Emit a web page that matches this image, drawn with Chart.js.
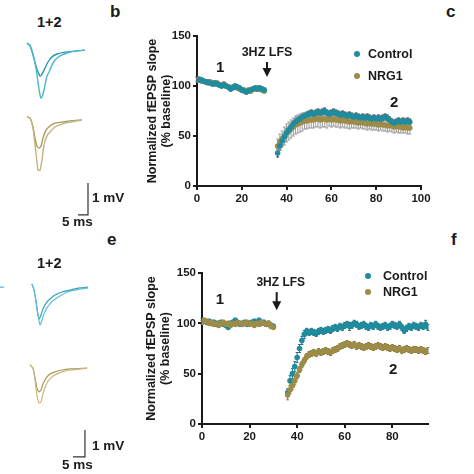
<!DOCTYPE html>
<html>
<head>
<meta charset="utf-8">
<script src="https://cdn.jsdelivr.net/npm/chart.js@4/dist/chart.umd.min.js"></script>
<style>
  body { margin: 0; background: #fff; }
  #wrap { position: relative; width: 474px; height: 474px; overflow: hidden; font-family: 'Liberation Sans', Arial, sans-serif; color: #1a1a1a; }
  canvas { position: absolute; }
  .lbl { position: absolute; line-height: 1; font-weight: bold; white-space: nowrap; }
  .dot { position: absolute; width: 6px; height: 6px; border-radius: 50%; }
</style>
</head>
<body>
<div id="wrap">
  <canvas id="traceTop" style="left:20px;top:30px;width:110px;height:200px"></canvas>
  <canvas id="traceBottom" style="left:0px;top:255px;width:130px;height:215px"></canvas>
  <canvas id="chartTop" style="left:130px;top:20px;width:310px;height:200px"></canvas>
  <canvas id="chartBottom" style="left:130px;top:250px;width:310px;height:210px"></canvas>

  <div class="lbl" style="left:110px;top:3px;font-size:17px">b</div>
  <div class="lbl" style="left:446px;top:3px;font-size:17px">c</div>
  <div class="lbl" style="left:107px;top:231px;font-size:17px">e</div>
  <div class="lbl" style="left:451px;top:231px;font-size:17px">f</div>

  <div class="lbl" style="left:37px;top:15px;font-size:14.5px">1+2</div>
  <div class="lbl" style="left:92px;top:191px;font-size:13.5px">1 mV</div>
  <div class="lbl" style="left:62px;top:215px;font-size:13.5px">5 ms</div>
  <div class="lbl" style="left:37px;top:256px;font-size:14.5px">1+2</div>
  <div class="lbl" style="left:92px;top:439px;font-size:13.5px">1 mV</div>
  <div class="lbl" style="left:62px;top:458px;font-size:13.5px">5 ms</div>

  <!-- legends -->
  <div class="dot" style="left:354px;top:51px;background:#1e8c9e"></div>
  <div class="lbl" style="left:368px;top:48px;font-size:12.5px">Control</div>
  <div class="dot" style="left:354px;top:73px;background:#9c8c48"></div>
  <div class="lbl" style="left:368px;top:70px;font-size:12.5px">NRG1</div>
  <div class="dot" style="left:365px;top:273px;background:#1e8c9e"></div>
  <div class="lbl" style="left:383px;top:270px;font-size:12.5px">Control</div>
  <div class="dot" style="left:365px;top:289px;background:#9c8c48"></div>
  <div class="lbl" style="left:383px;top:286px;font-size:12.5px">NRG1</div>
</div>

<script>
// 时间（分钟）：基线 0-30，LFS 后 36-95
const minutes = [0,1,2,3,4,5,6,7,8,9,10,11,12,13,14,15,16,17,18,19,20,21,22,23,24,25,26,27,28,29,30,
  36,37,38,39,40,41,42,43,44,45,46,47,48,49,50,51,52,53,54,55,56,57,58,59,60,61,62,63,64,65,
  66,67,68,69,70,71,72,73,74,75,76,77,78,79,80,81,82,83,84,85,86,87,88,89,90,91,92,93,94,95];

// 上图 (c)
const topControl = [107,106,106,105,104,104,103,102,103,102,101,100,101,100,99,97,98,100,99,98,96,95,94,95,96,97,98,97,98,97,96,
  33,40,45,49,53,56,59,62,64,66,67,69,70,71,
  72,73,72,73,74,73,74,75,73,72,73,74,73,72,71,72,71,70,71,70,69,70,69,68,69,68,69,68,67,68,67,68,67,68,69,68,66,64,63,64,65,64,65,64,65,64];
const topControlErr = [2,2,2,1,2,2,1,2,2,1,2,2,1,2,2,2,1,2,2,2,2,1,2,2,2,1,2,2,2,2,2,
  4,4,4,4,4,3,3,3,3,3,3,3,3,3,3,3,3,3,3,3,3,3,3,3,3,3,3,3,3,3,
  3,3,3,3,3,3,3,3,3,3,3,3,3,3,3,3,3,3,3,3,3,3,3,3,3,3,3,3,3,3];
const topNrg1 = [106,107,105,105,104,103,104,103,102,103,101,101,102,100,99,98,99,99,98,97,96,96,95,96,95,97,97,98,97,96,95,
  40,44,47,50,53,55,57,59,61,62,63,64,65,65,66,66,66,67,67,66,67,67,66,67,66,67,66,66,65,66,
  65,65,64,65,64,64,63,64,63,63,62,63,62,62,62,61,62,61,61,60,61,60,59,60,59,59,58,59,58,58];
const topNrg1Err = [2,2,2,2,2,2,2,2,2,2,2,2,2,2,2,2,2,2,2,2,2,2,2,2,2,2,2,2,2,2,2,
  7,8,8,9,9,9,9,9,9,9,9,9,8,8,8,8,8,8,8,8,8,8,8,7,7,7,7,7,7,7,
  7,7,7,7,6,6,6,6,6,6,6,6,6,6,6,6,6,6,6,6,6,6,6,6,6,6,5,6,6,6];

// 下图 (f)
const botControl = [103,102,101,102,100,101,99,100,101,99,98,96,100,101,103,100,99,100,101,99,100,101,102,101,103,100,101,99,100,98,97,
  31,43,50,57,66,75,83,89,92,91,92,91,90,92,93,92,93,94,93,95,96,95,97,96,98,99,97,98,100,99,
  97,98,99,97,96,98,97,99,97,96,97,98,96,97,99,98,97,99,96,93,95,97,96,98,97,96,98,97,99,96];
const botControlErr = [2,2,2,2,2,2,2,2,2,2,2,2,2,2,2,2,2,2,2,2,2,2,2,2,2,2,2,2,2,2,2,
  4,5,5,5,5,4,4,4,3,3,3,3,3,3,3,3,3,3,3,3,3,3,3,3,3,3,4,3,3,3,
  3,3,3,3,3,3,3,3,3,3,3,3,3,3,3,3,3,3,3,3,3,3,3,3,3,3,3,3,4,3];
const botNrg1 = [101,103,102,100,101,99,100,98,100,101,99,100,98,100,99,101,100,99,100,101,99,100,98,100,99,101,100,99,100,97,96,
  29,34,38,43,48,54,59,63,67,69,70,71,70,72,71,72,73,72,71,73,74,75,77,78,79,80,79,78,79,77,
  78,77,76,77,78,77,76,77,78,77,76,77,76,75,76,75,74,75,73,74,75,74,73,74,74,73,74,73,72,73];
const botNrg1Err = [2,2,2,2,2,2,2,2,2,2,2,2,2,2,2,2,2,2,2,2,2,2,2,2,2,2,2,2,2,2,2,
  5,4,4,4,3,3,3,3,3,3,3,3,3,3,3,3,3,3,3,3,3,3,3,3,3,3,3,3,3,3,
  3,3,3,3,3,3,3,3,3,3,3,3,3,3,3,3,3,3,3,3,3,3,3,3,3,3,3,3,3,3];

const yTicks = [0, 50, 100, 150];
const xTicksTop = [0, 20, 40, 60, 80, 100];
const xTicksBottom = [0, 20, 40, 60, 80];

// 示例波形 (ms, mV)
const tTopCyanDeepMs = [3.5,5,6.5,8,9,10,10.5,11.5,12.5,13.5,15,16,17.5,20,23.5,27.5,32.5];
const tTopCyanDeepMv = [-0.41,-0.47,-0.75,-1.19,-1.63,-2.03,-2.13,-2.0,-1.72,-1.44,-1.25,-1.09,-0.94,-0.81,-0.72,-0.66,-0.63];
const tTopCyanMs = [3.5,5,6.5,8,9,10,11,12.5,14,16,18.5,22.5,27.5,32.5];
const tTopCyanMv = [-0.41,-0.5,-0.78,-1.13,-1.31,-1.44,-1.38,-1.19,-1.0,-0.84,-0.75,-0.69,-0.66,-0.63];
const tTopOliveDeepMs = [3.5,5,6.5,7.5,8.5,9,10,11,12,13.5,15,17.5,21,25,31];
const tTopOliveDeepMv = [-2.72,-2.75,-3.06,-3.59,-4.13,-4.38,-4.38,-4.06,-3.59,-3.31,-3.19,-3.03,-2.94,-2.88,-2.81];
const tTopOliveMs = [3.5,5,6.5,7.5,8.5,9.5,10.5,11.5,13,15,17.5,21,25,31];
const tTopOliveMv = [-2.72,-2.75,-3.03,-3.38,-3.63,-3.69,-3.63,-3.38,-3.13,-3.0,-2.91,-2.88,-2.84,-2.81];
const barTopMs = [34,34,29];
const barTopMv = [-4.78,-5.78,-5.78];

const tBotCyanDeepMs = [13.3,14.2,15,15.8,16.7,17.5,18.3,19.6,20.8,22.9,25,27.9,31.3,36.7];
const tBotCyanDeepMv = [-1.07,-1.30,-1.74,-2.22,-2.59,-2.41,-2.19,-1.96,-1.81,-1.63,-1.52,-1.37,-1.30,-1.22];
const tBotCyanMs = [13.3,14.2,15,15.8,16.3,17.1,17.9,19.2,20.8,22.9,25.8,29.2,33.3,36.7];
const tBotCyanMv = [-1.07,-1.30,-1.70,-2.19,-2.37,-2.22,-2.0,-1.78,-1.63,-1.48,-1.37,-1.30,-1.22,-1.19];
const tBotOliveDeepMs = [12.5,13.75,14.6,15.4,16.3,17.1,17.9,19.2,20.8,22.9,25.8,29.2,36.3];
const tBotOliveDeepMv = [-4.07,-4.19,-4.63,-5.19,-5.48,-5.44,-5.15,-4.81,-4.59,-4.44,-4.33,-4.26,-4.19];
const tBotOliveMs = [12.5,13.75,14.6,15.4,16.3,17.1,17.9,19.2,20.8,22.9,25.8,29.2,36.3];
const tBotOliveMv = [-4.07,-4.19,-4.56,-4.93,-5.07,-5.0,-4.78,-4.56,-4.41,-4.33,-4.26,-4.22,-4.19];
const tBotEdgeMs = [0,1.7];
const tBotEdgeMv = [-1.19,-1.19];
const barBotMs = [35.4,35.4,30.4];
const barBotMv = [-6.48,-7.48,-7.48];

const FONT = "'Liberation Sans', Arial, sans-serif";
Chart.defaults.font.family = FONT;
Chart.defaults.color = '#1a1a1a';

const pts = (xs, ys) => xs.map((x, i) => ({ x: x, y: ys[i] }));

// 误差线
const errorBars = {
  id: 'errorBars',
  beforeDatasetsDraw(chart) {
    const { ctx, scales: { x, y } } = chart;
    chart.data.datasets.forEach(ds => {
      if (!ds.err) return;
      ctx.save();
      ctx.strokeStyle = ds.errColor;
      ctx.lineWidth = 1;
      ds.data.forEach((p, j) => {
        const e = ds.err[j];
        const px = x.getPixelForValue(p.x);
        const y1 = y.getPixelForValue(p.y + e);
        const y2 = y.getPixelForValue(p.y - e);
        ctx.beginPath();
        ctx.moveTo(px, y1); ctx.lineTo(px, y2);
        ctx.moveTo(px - 1.5, y1); ctx.lineTo(px + 1.5, y1);
        ctx.moveTo(px - 1.5, y2); ctx.lineTo(px + 1.5, y2);
        ctx.stroke();
      });
      ctx.restore();
    });
  }
};

// 注释：文字和箭头
const marks = {
  id: 'marks',
  afterDatasetsDraw(chart, args, opts) {
    const { ctx, scales: { x, y } } = chart;
    ctx.save();
    ctx.fillStyle = '#1a1a1a';
    ctx.textAlign = 'center';
    ctx.textBaseline = 'middle';
    (opts.texts || []).forEach(t => {
      ctx.font = t.font;
      ctx.fillText(t.text, x.getPixelForValue(t.x), y.getPixelForValue(t.y));
    });
    const a = opts.arrow;
    if (a) {
      const ax = x.getPixelForValue(a.x);
      const y0 = y.getPixelForValue(a.from);
      const y1 = y.getPixelForValue(a.to);
      ctx.strokeStyle = '#1a1a1a';
      ctx.lineWidth = 2;
      ctx.beginPath(); ctx.moveTo(ax, y0); ctx.lineTo(ax, y1 - 6); ctx.stroke();
      ctx.beginPath();
      ctx.moveTo(ax - 4.5, y1 - 9); ctx.lineTo(ax + 4.5, y1 - 9); ctx.lineTo(ax, y1);
      ctx.closePath(); ctx.fill();
    }
    ctx.restore();
  }
};

function axisY(width, titlePad) {
  return {
    type: 'linear', min: 0, max: 150,
    afterBuildTicks: s => { s.ticks = yTicks.map(v => ({ value: v })); },
    afterFit: s => { s.width = width; },
    border: { display: true, color: '#1a1a1a', width: 2 },
    grid: { drawOnChartArea: false, drawTicks: true, tickLength: 4, color: '#1a1a1a', lineWidth: 2 },
    ticks: { padding: 2, font: { size: 11.5, weight: 'bold' } },
    title: {
      display: true,
      text: ['Normalized fEPSP slope', '(% baseline)'],
      font: { size: 12.5, weight: 'bold', lineHeight: 1.15 },
      padding: { top: titlePad, bottom: 0 }
    }
  };
}

function axisX(max, ticks, height) {
  return {
    type: 'linear', min: 0, max: max,
    afterBuildTicks: s => { s.ticks = ticks.map(v => ({ value: v })); },
    afterFit: s => { s.height = height; },
    border: { display: true, color: '#1a1a1a', width: 2 },
    grid: { drawOnChartArea: false, drawTicks: true, tickLength: 4, color: '#1a1a1a', lineWidth: 2 },
    ticks: { padding: 2, maxRotation: 0, font: { size: 11.5, weight: 'bold' } }
  };
}

function ltpChart(id, ctrl, ctrlErr, nrg, nrgErr, opt) {
  new Chart(document.getElementById(id), {
    type: 'scatter',
    data: {
      datasets: [
        { label: 'Control', data: pts(minutes, ctrl), err: ctrlErr, errColor: opt.ctrlErrColor,
          backgroundColor: '#1e8c9e', borderColor: '#1e8c9e', pointRadius: 2.8, borderWidth: 0, order: opt.ctrlOrder },
        { label: 'NRG1', data: pts(minutes, nrg), err: nrgErr, errColor: opt.nrgErrColor,
          backgroundColor: '#9c8c48', borderColor: '#9c8c48', pointRadius: 2.8, borderWidth: 0, order: opt.nrgOrder }
      ]
    },
    options: {
      responsive: false,
      animation: false,
      layout: { padding: opt.padding },
      scales: { x: axisX(opt.xMax, opt.xTicks, opt.xHeight), y: axisY(opt.yWidth, opt.titlePad) },
      plugins: { legend: { display: false }, tooltip: { enabled: false }, marks: opt.marks }
    },
    plugins: [errorBars, marks]
  });
}

ltpChart('chartTop', topControl, topControlErr, topNrg1, topNrg1Err, {
  padding: { top: 16, right: 19, left: 0, bottom: 0 },
  xMax: 100, xTicks: xTicksTop, xHeight: 34, yWidth: 67, titlePad: 15,
  ctrlOrder: 0, nrgOrder: 1, ctrlErrColor: '#333', nrgErrColor: '#9a9a9a',
  marks: {
    texts: [
      { text: '3HZ LFS', x: 31.25, y: 133, font: 'bold 12.5px ' + FONT },
      { text: '1', x: 10.3, y: 118, font: 'bold 15px ' + FONT },
      { text: '2', x: 88, y: 83, font: 'bold 15px ' + FONT }
    ],
    arrow: { x: 31.25, from: 124, to: 109 }
  }
});

ltpChart('chartBottom', botControl, botControlErr, botNrg1, botNrg1Err, {
  padding: { top: 23, right: 12, left: 0, bottom: 0 },
  xMax: 95, xTicks: xTicksBottom, xHeight: 36, yWidth: 72, titlePad: 14,
  ctrlOrder: 1, nrgOrder: 0, ctrlErrColor: '#2a6f7c', nrgErrColor: '#8a7c3e',
  marks: {
    texts: [
      { text: '3HZ LFS', x: 33.1, y: 140, font: 'bold 12px ' + FONT },
      { text: '1', x: 7.5, y: 123, font: 'bold 15px ' + FONT },
      { text: '2', x: 80.4, y: 54, font: 'bold 15px ' + FONT }
    ],
    arrow: { x: 31.4, from: 131, to: 113 }
  }
});

function traceSet(data, color, width) {
  return { data: data, borderColor: color, borderWidth: width, pointRadius: 0, tension: 0.2, fill: false };
}

function traceChart(id, xMax, yMin, sets) {
  new Chart(document.getElementById(id), {
    type: 'line',
    data: { datasets: sets },
    options: {
      responsive: false,
      animation: false,
      layout: { padding: 0 },
      scales: {
        x: { type: 'linear', min: 0, max: xMax, display: false },
        y: { type: 'linear', min: yMin, max: 0, display: false }
      },
      plugins: { legend: { display: false }, tooltip: { enabled: false } }
    }
  });
}

traceChart('traceTop', 55, -6.25, [
  traceSet(pts(tTopCyanDeepMs, tTopCyanDeepMv), '#4cb8cc', 1.4),
  traceSet(pts(tTopCyanMs, tTopCyanMv), '#2a95aa', 1.4),
  traceSet(pts(tTopOliveDeepMs, tTopOliveDeepMv), '#c2b47a', 1.4),
  traceSet(pts(tTopOliveMs, tTopOliveMv), '#a8985a', 1.4),
  { data: pts(barTopMs, barTopMv), borderColor: '#333', borderWidth: 1.2, pointRadius: 0, tension: 0, fill: false }
]);

traceChart('traceBottom', 130 / 2.4, -215 / 27, [
  traceSet(pts(tBotEdgeMs, tBotEdgeMv), '#4cb6d0', 1.2),
  traceSet(pts(tBotCyanDeepMs, tBotCyanDeepMv), '#5cc0d8', 1.2),
  traceSet(pts(tBotCyanMs, tBotCyanMv), '#3a9fb5', 1.2),
  traceSet(pts(tBotOliveDeepMs, tBotOliveDeepMv), '#c6b87e', 1.2),
  traceSet(pts(tBotOliveMs, tBotOliveMv), '#a9995a', 1.2),
  { data: pts(barBotMs, barBotMv), borderColor: '#333', borderWidth: 1.2, pointRadius: 0, tension: 0, fill: false }
]);
</script>
</body>
</html>
